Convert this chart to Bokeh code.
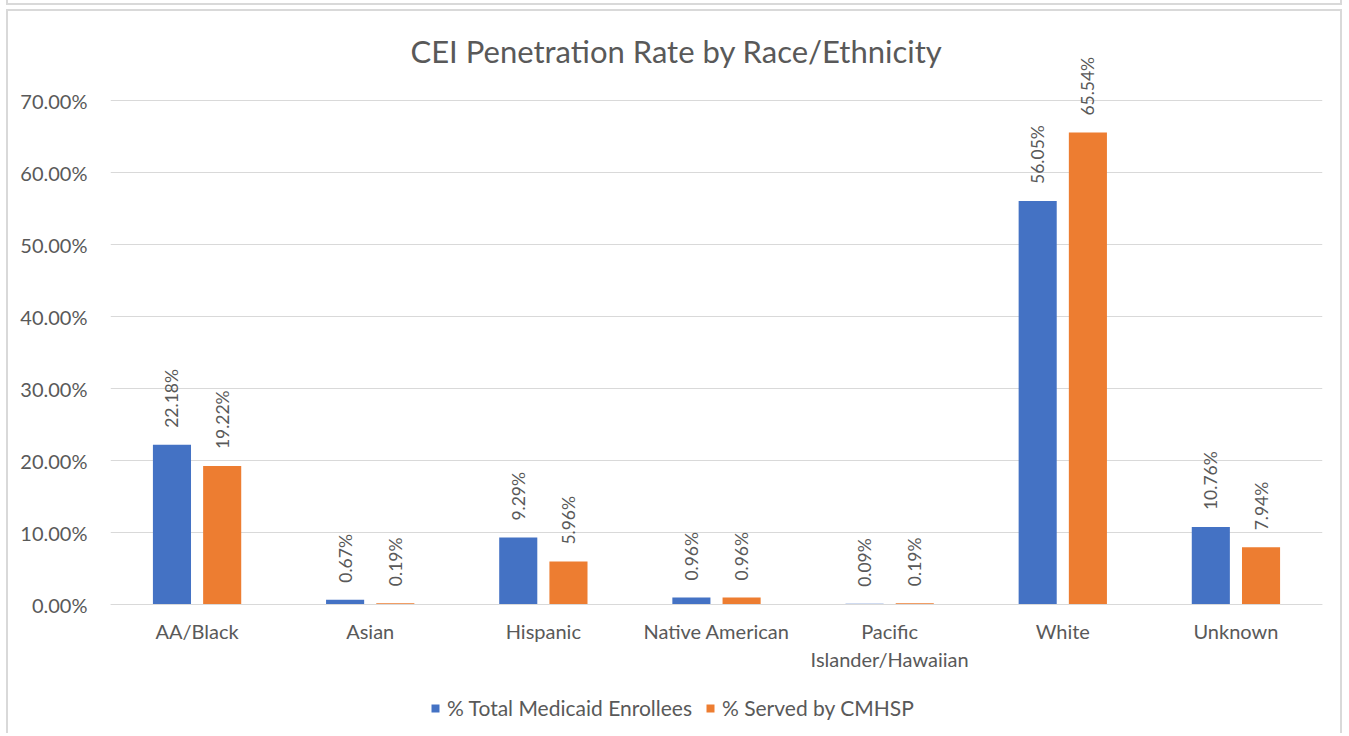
import math
from bokeh.plotting import figure
from bokeh.models import (ColumnDataSource, FactorRange, Range1d, FixedTicker,
                          PrintfTickFormatter, Legend, LegendItem, Label,
                          CategoricalAxis, InlineStyleSheet)
from bokeh.transform import dodge
from bokeh.core.properties import value
from bokeh.embed import file_html
from bokeh.resources import INLINE

categories = ["AA/Black", "Asian", "Hispanic", "Native American",
              "Pacific\nIslander/Hawaiian", "White", "Unknown"]
enrollees = [22.18, 0.67, 9.29, 0.96, 0.09, 56.05, 10.76]
served = [19.22, 0.19, 5.96, 0.96, 0.19, 65.54, 7.94]
enrollee_labels = ["22.18%", "0.67%", "9.29%", "0.96%", "0.09%", "56.05%", "10.76%"]
served_labels = ["19.22%", "0.19%", "5.96%", "0.96%", "0.19%", "65.54%", "7.94%"]
y_ticks = [0, 10, 20, 30, 40, 50, 60, 70]
series_names = ["% Total Medicaid Enrollees", "% Served by CMHSP"]
title_text = "CEI Penetration Rate by Race/Ethnicity"

FONT = "Lato"
TXT = "#595959"
BLUE = "#4472C4"
ORANGE = "#ED7D31"

# layout (page pixels)
W, H = 1336, 724
CANVAS_X, CANVAS_Y = 8, 11
FRAME_L, FRAME_R, FRAME_T, FRAME_B = 110, 1322, 20, 730
ZERO_Y, TOP_Y = 604, 100          # pixel rows of 0% and 70%
px_per_unit = (ZERO_Y - TOP_Y) / 70.0
y_top = (ZERO_Y - FRAME_T) / px_per_unit
y_bot = -(FRAME_B - ZERO_Y) / px_per_unit
cat_w = (FRAME_R - FRAME_L) / len(categories)

src = ColumnDataSource(dict(cat=categories, a=enrollees, b=served,
                            la=enrollee_labels, lb=served_labels))

p = figure(x_range=FactorRange(factors=categories, range_padding=0),
           y_range=Range1d(y_bot, y_top), width=W, height=H,
           output_backend="svg", toolbar_location=None,
           x_axis_location=None,
           min_border_left=FRAME_L - CANVAS_X,
           min_border_right=CANVAS_X + W - FRAME_R,
           min_border_top=FRAME_T - CANVAS_Y,
           min_border_bottom=CANVAS_Y + H - FRAME_B)

p.styles = {"border": "2px solid #D9D9D9", "border-bottom": "none",
            "margin-left": "6px", "margin-top": "9px"}
p.stylesheets = [InlineStyleSheet(css=(
    ":host::before { content: ''; position: absolute; left: -2px; "
    "right: -2px; top: -12px; height: 4px; border: 2px solid #D9D9D9; "
    "border-top: none; }"))]

r1 = p.vbar(x=dodge("cat", -0.145, range=p.x_range), top="a", width=0.22,
            source=src, fill_color=BLUE, line_color=None)
r2 = p.vbar(x=dodge("cat", 0.145, range=p.x_range), top="b", width=0.22,
            source=src, fill_color=ORANGE, line_color=None)

for col, ycol, off in (("la", "a", -0.145), ("lb", "b", 0.145)):
    p.text(x=dodge("cat", off, range=p.x_range), y=ycol,
           text=col, source=src, angle=math.pi / 2, text_align="left",
           text_baseline="middle", y_offset=-17, text_font=value(FONT),
           text_font_size="17.5px", text_color=TXT)

title = Label(x=(676 - FRAME_L) / cat_w, y=(ZERO_Y - 50) / px_per_unit,
              text=title_text, text_align="center", text_baseline="middle",
              text_font=FONT, text_font_size="31px", text_color=TXT)
p.add_layout(title)

p.yaxis.ticker = FixedTicker(ticks=y_ticks)
p.yaxis.formatter = PrintfTickFormatter(format="%.2f%%")
p.yaxis.axis_line_color = None
p.yaxis.major_tick_line_color = None
p.yaxis.minor_tick_line_color = None
p.yaxis.major_label_text_font = FONT
p.yaxis.major_label_text_font_size = "20px"
p.yaxis.major_label_text_color = TXT
p.yaxis.major_label_standoff = 17

xaxis = CategoricalAxis(fixed_location=0)
xaxis.axis_line_color = "#D9D9D9"
xaxis.major_tick_line_color = None
xaxis.minor_tick_line_color = None
xaxis.major_label_text_font = FONT
xaxis.major_label_text_font_size = "20px"
xaxis.major_label_text_color = TXT
xaxis.major_label_standoff = 8
p.add_layout(xaxis, "below")

p.xgrid.grid_line_color = None
p.ygrid.grid_line_color = "#D9D9D9"
p.ygrid.ticker = FixedTicker(ticks=y_ticks)
p.outline_line_color = None

legend = Legend(items=[LegendItem(label=series_names[0], renderers=[r1]),
                       LegendItem(label=series_names[1], renderers=[r2])],
                orientation="horizontal",
                location=(430 - FRAME_L, FRAME_B - 707 - 13),
                label_text_font=FONT, label_text_font_size="21px",
                label_text_color=TXT, glyph_width=10, glyph_height=10,
                label_standoff=7, spacing=13, border_line_color=None,
                background_fill_alpha=0, margin=0, padding=0)
p.add_layout(legend, "center")

open("out.html", "w").write(file_html(p, INLINE))
